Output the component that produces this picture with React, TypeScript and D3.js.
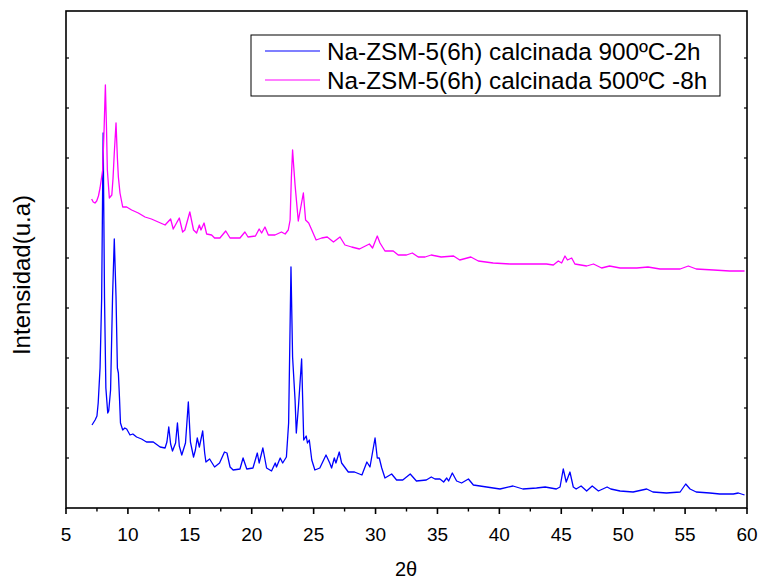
import React from 'react';
import * as d3 from 'd3';

// 2θ (degrees) and intensity (arbitrary units)
const seriesNames = ['Na-ZSM-5(6h) calcinada 900ºC-2h', 'Na-ZSM-5(6h) calcinada 500ºC -8h'];
const seriesColors = ['#0000FF', '#FF00FF'];

const blue900: [number, number][] = [
  [7.10, 83], [7.35, 88], [7.50, 92], [7.60, 105], [7.75, 140], [7.88, 210], [8.00, 375], [8.11, 210],
  [8.22, 120], [8.37, 95], [8.45, 97], [8.60, 118], [8.76, 211], [8.90, 269], [9.04, 211], [9.15, 140],
  [9.23, 135], [9.32, 110], [9.40, 85], [9.58, 78], [9.75, 80], [9.90, 79], [10.17, 73], [10.40, 74],
  [10.70, 71], [11.10, 69], [11.50, 66], [12.05, 66], [12.60, 61], [13.00, 60], [13.15, 66], [13.30, 81],
  [13.45, 64], [13.60, 57], [13.85, 65], [14.00, 85], [14.15, 62], [14.35, 53], [14.65, 65], [14.88, 106],
  [15.05, 66], [15.30, 51], [15.45, 58], [15.60, 70], [15.77, 61], [16.04, 77], [16.20, 55], [16.30, 46],
  [16.60, 49], [17.00, 41], [17.40, 45], [17.80, 56], [18.00, 55], [18.25, 41], [18.50, 38], [19.05, 39],
  [19.30, 50], [19.60, 39], [20.10, 40], [20.45, 55], [20.60, 45], [20.90, 60], [21.20, 40], [21.60, 37],
  [21.90, 45], [22.00, 41], [22.30, 50], [22.50, 45], [22.80, 51], [22.98, 85], [23.17, 241], [23.30, 151],
  [23.50, 108], [23.60, 75], [23.77, 101], [24.03, 149], [24.20, 68], [24.40, 72], [24.50, 65], [24.65, 68],
  [24.85, 48], [25.10, 38], [25.50, 40], [26.00, 53], [26.30, 45], [26.45, 40], [26.67, 50], [26.80, 45],
  [27.07, 56], [27.26, 45], [27.50, 41], [27.80, 36], [28.30, 36], [28.90, 33], [29.30, 46], [29.55, 41],
  [29.96, 70], [30.14, 50], [30.30, 50], [30.50, 40], [30.76, 30], [31.30, 34], [31.70, 28], [32.20, 28],
  [32.80, 34], [33.30, 27], [34.10, 28], [34.50, 31], [34.80, 29], [35.20, 29], [35.50, 26], [35.75, 30],
  [35.90, 27], [36.20, 35], [36.55, 27], [36.95, 25], [37.50, 29], [37.90, 23], [38.97, 21], [40.05, 19],
  [41.10, 22], [41.90, 19], [43.00, 20], [43.70, 21], [44.60, 19], [44.90, 21], [45.16, 39], [45.40, 26],
  [45.70, 36], [45.97, 21], [46.20, 19], [46.60, 22], [47.05, 17], [47.50, 22], [48.00, 17], [48.70, 21],
  [49.00, 19], [49.75, 17], [50.80, 16], [51.90, 19], [52.40, 16], [53.50, 15], [54.60, 16], [55.05, 24],
  [55.40, 19], [55.90, 16], [57.00, 15], [57.80, 14], [58.90, 14], [59.30, 15], [59.80, 13],
];

const magenta500: [number, number][] = [
  [7.07, 309], [7.20, 306], [7.34, 305], [7.48, 307], [7.62, 312], [7.75, 320], [7.96, 338], [8.08, 380],
  [8.18, 423], [8.27, 380], [8.34, 338], [8.50, 310], [8.70, 313], [8.80, 330], [8.90, 355], [9.04, 385],
  [9.15, 350], [9.23, 331], [9.36, 315], [9.58, 301], [9.90, 301], [10.30, 298], [10.84, 295], [11.38, 291],
  [11.90, 289], [12.45, 286], [13.00, 283], [13.45, 289], [13.66, 279], [14.15, 290], [14.42, 276], [14.60, 278],
  [15.00, 296], [15.30, 278], [15.55, 275], [15.77, 283], [15.90, 278], [16.15, 285], [16.36, 274], [16.76, 273],
  [17.00, 270], [17.43, 270], [17.90, 277], [18.25, 270], [19.05, 270], [19.45, 276], [19.70, 271], [20.30, 272],
  [20.60, 279], [20.80, 275], [21.07, 281], [21.34, 273], [21.88, 273], [22.40, 276], [22.70, 274], [22.95, 278],
  [23.10, 288], [23.20, 330], [23.30, 358], [23.40, 340], [23.50, 323], [23.76, 287], [24.17, 315], [24.35, 288],
  [24.60, 285], [24.85, 278], [25.20, 268], [25.65, 270], [26.10, 271], [26.60, 266], [27.13, 271], [27.53, 263],
  [28.07, 261], [28.70, 259], [29.50, 264], [29.76, 260], [30.14, 272], [30.36, 265], [30.76, 257], [31.43, 257],
  [31.83, 253], [32.50, 253], [32.97, 255], [33.45, 251], [34.00, 251], [34.50, 253], [35.30, 251], [36.30, 252],
  [36.80, 248], [37.70, 251], [38.30, 247], [39.50, 245], [40.86, 244], [42.20, 244], [43.80, 244], [44.36, 243],
  [44.76, 247], [45.03, 245], [45.30, 252], [45.50, 248], [45.84, 250], [46.10, 244], [47.05, 242], [47.60, 244],
  [48.26, 240], [48.90, 242], [49.75, 240], [51.10, 240], [52.00, 241], [52.97, 239], [54.60, 239], [55.26, 242],
  [55.90, 239], [57.30, 238], [58.60, 237], [59.80, 237],
];

const xMajorTicks = [5, 10, 15, 20, 25, 30, 35, 40, 45, 50, 55, 60];
const xMinorTicks = [7.5, 12.5, 17.5, 22.5, 27.5, 32.5, 37.5, 42.5, 47.5, 52.5, 57.5];
const yTicks = [50, 100, 150, 200, 250, 300, 350, 400, 450];

const W = 759, H = 581;
const L = 66, R = 747, T = 11, B = 508;
const FONT = 'Liberation Sans, Arial, sans-serif';

export default function App() {
  const x = d3.scaleLinear().domain([5, 60]).range([L, R]);
  const y = d3.scaleLinear().domain([0, 497]).range([B, T]);
  const line = d3.line<[number, number]>().x(d => x(d[0])).y(d => y(d[1]));
  const data = [blue900, magenta500];

  return (
    <svg width={W} height={H} style={{ position: 'absolute', left: 0, top: 0, background: '#fff' }}>
      <rect x={0} y={0} width={W} height={H} fill="#fff" />
      {data.map((s, i) => (
        <path key={i} d={line(s) || ''} fill="none" stroke={seriesColors[i]} strokeWidth={1.3} strokeLinejoin="round" />
      ))}
      {/* frame */}
      <rect x={L} y={T} width={R - L} height={B - T} fill="none" stroke="#000" strokeWidth={1.6} />
      {xMajorTicks.map(t => (
        <g key={'M' + t}>
          <line x1={x(t)} x2={x(t)} y1={B} y2={B + 6} stroke="#000" strokeWidth={1.6} />
          <text x={x(t)} y={541} textAnchor="middle" fontFamily={FONT} fontSize={19}>{t}</text>
        </g>
      ))}
      {xMinorTicks.map(t => (
        <line key={'m' + t} x1={x(t)} x2={x(t)} y1={B} y2={B + 3.5} stroke="#000" strokeWidth={1.4} />
      ))}
      {yTicks.map(t => (
        <g key={'y' + t}>
          <line x1={L} x2={L + 3} y1={y(t)} y2={y(t)} stroke="#000" strokeWidth={1.2} />
          <line x1={R} x2={R - 3} y1={y(t)} y2={y(t)} stroke="#000" strokeWidth={1.2} />
        </g>
      ))}
      <text x={406} y={576} textAnchor="middle" fontFamily={FONT} fontSize={20}>2θ</text>
      <text transform="translate(30,275) rotate(-90)" textAnchor="middle" fontFamily={FONT} fontSize={24}>Intensidad(u.a)</text>
      {/* legend */}
      <rect x={251} y={35} width={469} height={61} fill="#fff" stroke="#000" strokeWidth={1} />
      {seriesNames.map((n, i) => (
        <g key={n}>
          <line x1={265} x2={320} y1={51 + i * 29} y2={51 + i * 29} stroke={seriesColors[i]} strokeWidth={1.2} />
          <text x={327} y={60 + i * 28.5} fontFamily={FONT} fontSize={24.3}>{n}</text>
        </g>
      ))}
    </svg>
  );
}
